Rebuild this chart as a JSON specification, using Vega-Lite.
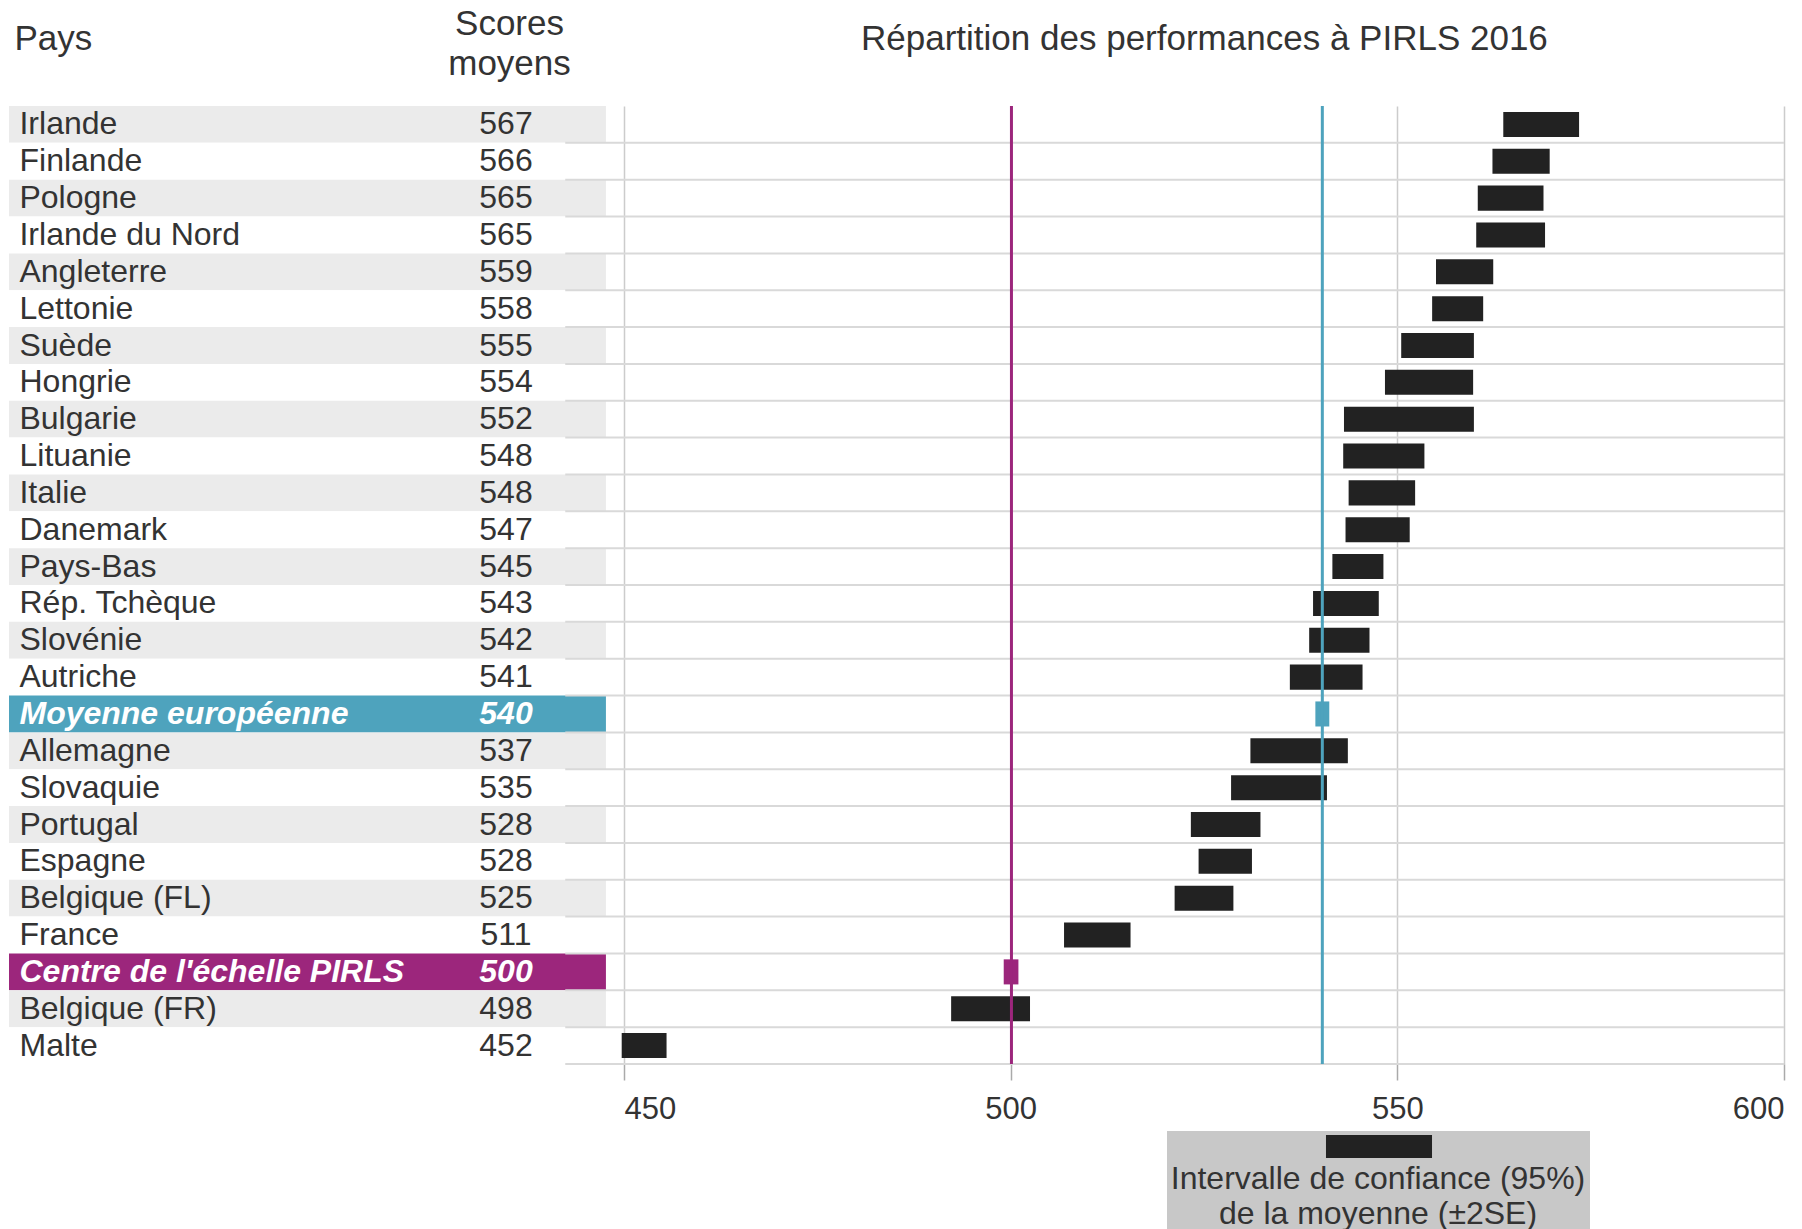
{
  "$schema": "https://vega.github.io/schema/vega-lite/v6.json",
  "width": 1775,
  "height": 958,
  "autosize": {"type": "none"},
  "padding": {"left": 9, "top": 106, "right": 18, "bottom": 165},
  "background": "#ffffff",
  "config": {"font": "Liberation Sans", "view": {"stroke": null}},
  "data": {
    "values": [
      {"pays": "Irlande", "score": 567, "lo": 563.7, "hi": 573.5, "type": "pays", "rang": 1},
      {"pays": "Finlande", "score": 566, "lo": 562.3, "hi": 569.7, "type": "pays", "rang": 2},
      {"pays": "Pologne", "score": 565, "lo": 560.4, "hi": 568.9, "type": "pays", "rang": 3},
      {"pays": "Irlande du Nord", "score": 565, "lo": 560.2, "hi": 569.1, "type": "pays", "rang": 4},
      {"pays": "Angleterre", "score": 559, "lo": 555.0, "hi": 562.4, "type": "pays", "rang": 5},
      {"pays": "Lettonie", "score": 558, "lo": 554.5, "hi": 561.1, "type": "pays", "rang": 6},
      {"pays": "Suède", "score": 555, "lo": 550.5, "hi": 559.9, "type": "pays", "rang": 7},
      {"pays": "Hongrie", "score": 554, "lo": 548.4, "hi": 559.8, "type": "pays", "rang": 8},
      {"pays": "Bulgarie", "score": 552, "lo": 543.1, "hi": 559.9, "type": "pays", "rang": 9},
      {"pays": "Lituanie", "score": 548, "lo": 543.0, "hi": 553.5, "type": "pays", "rang": 10},
      {"pays": "Italie", "score": 548, "lo": 543.7, "hi": 552.3, "type": "pays", "rang": 11},
      {"pays": "Danemark", "score": 547, "lo": 543.3, "hi": 551.6, "type": "pays", "rang": 12},
      {"pays": "Pays-Bas", "score": 545, "lo": 541.6, "hi": 548.2, "type": "pays", "rang": 13},
      {"pays": "Rép. Tchèque", "score": 543, "lo": 539.1, "hi": 547.6, "type": "pays", "rang": 14},
      {"pays": "Slovénie", "score": 542, "lo": 538.6, "hi": 546.4, "type": "pays", "rang": 15},
      {"pays": "Autriche", "score": 541, "lo": 536.1, "hi": 545.5, "type": "pays", "rang": 16},
      {"pays": "Moyenne européenne", "score": 540, "exact": 540.3, "lo": 539.4, "hi": 541.2, "type": "moyenne", "rang": null},
      {"pays": "Allemagne", "score": 537, "lo": 531.0, "hi": 543.6, "type": "pays", "rang": 17},
      {"pays": "Slovaquie", "score": 535, "lo": 528.5, "hi": 540.9, "type": "pays", "rang": 18},
      {"pays": "Portugal", "score": 528, "lo": 523.3, "hi": 532.3, "type": "pays", "rang": 19},
      {"pays": "Espagne", "score": 528, "lo": 524.3, "hi": 531.2, "type": "pays", "rang": 20},
      {"pays": "Belgique (FL)", "score": 525, "lo": 521.2, "hi": 528.8, "type": "pays", "rang": 21},
      {"pays": "France", "score": 511, "lo": 506.9, "hi": 515.5, "type": "pays", "rang": 22},
      {"pays": "Centre de l'échelle PIRLS", "score": 500, "exact": 500.1, "lo": 499.1, "hi": 501.0, "type": "centre", "rang": null},
      {"pays": "Belgique (FR)", "score": 498, "lo": 492.3, "hi": 502.5, "type": "pays", "rang": 23},
      {"pays": "Malte", "score": 452, "lo": 449.7, "hi": 455.5, "type": "pays", "rang": 24}
    ]
  },
  "layer": [
    {
      "layer": [
        {
          "mark": {"type": "bar"},
          "encoding": {
            "y": {"field": "pays", "type": "nominal", "sort": null, "axis": null, "scale": {"paddingInner": 0, "paddingOuter": 0}},
            "x": {
              "datum": 0, "type": "quantitative", "scale": {"domain": [0, 100], "nice": false, "zero": false},
              "axis": {"orient": "top", "values": [0.28, 28.17, 67.32], "labelExpr": "datum.value < 5 ? 'Pays' : datum.value < 50 ? ['Scores', 'moyens'] : 'Répartition des performances à PIRLS 2016'", "labelAlign": {"condition": {"test": "datum.value < 5", "value": "left"}, "value": "center"}, "labelBaseline": "middle", "labelFontSize": 35, "labelColor": "#333333", "labelPadding": {"condition": {"test": "datum.value > 5 && datum.value < 50", "value": 83}, "value": 68}, "labelLineHeight": 40, "labelLimit": 0, "labelOverlap": false, "labelBound": false, "labelFlush": false, "ticks": false, "tickSize": 0, "domain": false, "grid": false, "title": null}
            },
            "x2": {"datum": 33.63},
            "fill": {
              "condition": [
                {"test": "datum.type == 'moyenne'", "value": "#4ea3bd"},
                {"test": "datum.type == 'centre'", "value": "#9c267c"},
                {"test": "datum.rang % 2 == 1", "value": "#ebebeb"}
              ],
              "value": "#ffffff"
            }
          }
        },
        {
          "mark": {"type": "text", "align": "left", "baseline": "middle", "fontSize": 32, "color": "#333333"},
          "encoding": {
            "y": {"field": "pays", "type": "nominal", "sort": null, "axis": null},
            "x": {
              "datum": 0.59, "type": "quantitative",
              "axis": {"orient": "top", "values": [0.28, 28.17, 67.32], "labelExpr": "datum.value < 5 ? 'Pays' : datum.value < 50 ? ['Scores', 'moyens'] : 'Répartition des performances à PIRLS 2016'", "labelAlign": {"condition": {"test": "datum.value < 5", "value": "left"}, "value": "center"}, "labelBaseline": "middle", "labelFontSize": 35, "labelColor": "#333333", "labelPadding": {"condition": {"test": "datum.value > 5 && datum.value < 50", "value": 83}, "value": 68}, "labelLineHeight": 40, "labelLimit": 0, "labelOverlap": false, "labelBound": false, "labelFlush": false, "ticks": false, "tickSize": 0, "domain": false, "grid": false, "title": null}
            },
            "text": {"condition": {"test": "datum.type == 'pays'", "field": "pays", "type": "nominal"}, "value": ""}
          }
        },
        {
          "mark": {"type": "text", "align": "center", "baseline": "middle", "fontSize": 32, "color": "#333333"},
          "encoding": {
            "y": {"field": "pays", "type": "nominal", "sort": null, "axis": null},
            "x": {
              "datum": 28.0, "type": "quantitative",
              "axis": {"orient": "top", "values": [0.28, 28.17, 67.32], "labelExpr": "datum.value < 5 ? 'Pays' : datum.value < 50 ? ['Scores', 'moyens'] : 'Répartition des performances à PIRLS 2016'", "labelAlign": {"condition": {"test": "datum.value < 5", "value": "left"}, "value": "center"}, "labelBaseline": "middle", "labelFontSize": 35, "labelColor": "#333333", "labelPadding": {"condition": {"test": "datum.value > 5 && datum.value < 50", "value": 83}, "value": 68}, "labelLineHeight": 40, "labelLimit": 0, "labelOverlap": false, "labelBound": false, "labelFlush": false, "ticks": false, "tickSize": 0, "domain": false, "grid": false, "title": null}
            },
            "text": {"condition": {"test": "datum.type == 'pays'", "field": "score", "type": "quantitative"}, "value": ""}
          }
        },
        {
          "mark": {"type": "text", "align": "left", "baseline": "middle", "fontSize": 32, "fontWeight": "bold", "fontStyle": "italic", "color": "#ffffff"},
          "encoding": {
            "y": {"field": "pays", "type": "nominal", "sort": null, "axis": null},
            "x": {
              "datum": 0.59, "type": "quantitative",
              "axis": {"orient": "top", "values": [0.28, 28.17, 67.32], "labelExpr": "datum.value < 5 ? 'Pays' : datum.value < 50 ? ['Scores', 'moyens'] : 'Répartition des performances à PIRLS 2016'", "labelAlign": {"condition": {"test": "datum.value < 5", "value": "left"}, "value": "center"}, "labelBaseline": "middle", "labelFontSize": 35, "labelColor": "#333333", "labelPadding": {"condition": {"test": "datum.value > 5 && datum.value < 50", "value": 83}, "value": 68}, "labelLineHeight": 40, "labelLimit": 0, "labelOverlap": false, "labelBound": false, "labelFlush": false, "ticks": false, "tickSize": 0, "domain": false, "grid": false, "title": null}
            },
            "text": {"condition": {"test": "datum.type != 'pays'", "field": "pays", "type": "nominal"}, "value": ""}
          }
        },
        {
          "mark": {"type": "text", "align": "center", "baseline": "middle", "fontSize": 32, "fontWeight": "bold", "fontStyle": "italic", "color": "#ffffff"},
          "encoding": {
            "y": {"field": "pays", "type": "nominal", "sort": null, "axis": null},
            "x": {
              "datum": 28.0, "type": "quantitative",
              "axis": {"orient": "top", "values": [0.28, 28.17, 67.32], "labelExpr": "datum.value < 5 ? 'Pays' : datum.value < 50 ? ['Scores', 'moyens'] : 'Répartition des performances à PIRLS 2016'", "labelAlign": {"condition": {"test": "datum.value < 5", "value": "left"}, "value": "center"}, "labelBaseline": "middle", "labelFontSize": 35, "labelColor": "#333333", "labelPadding": {"condition": {"test": "datum.value > 5 && datum.value < 50", "value": 83}, "value": 68}, "labelLineHeight": 40, "labelLimit": 0, "labelOverlap": false, "labelBound": false, "labelFlush": false, "ticks": false, "tickSize": 0, "domain": false, "grid": false, "title": null}
            },
            "text": {"condition": {"test": "datum.type != 'pays'", "field": "score", "type": "quantitative"}, "value": ""}
          }
        }
      ]
    },
    {
      "layer": [
        {
          "mark": {"type": "rule", "color": "#d9d9d9", "strokeWidth": 2},
          "encoding": {
            "y": {"field": "pays", "type": "nominal", "sort": null, "bandPosition": 1, "axis": null},
            "x": {
              "datum": 442.4, "type": "quantitative", "scale": {"domain": [370.47, 600], "nice": false, "zero": false},
              "axis": {"orient": "bottom", "values": [450, 500, 550, 600], "grid": true, "gridColor": "#cccccc", "gridWidth": 1.5, "domain": false, "ticks": true, "tickColor": "#aaaaaa", "tickWidth": 1.5, "tickSize": 16, "labelFontSize": 31, "labelColor": "#333333", "labelBaseline": "middle", "labelPadding": 29, "labelAlign": {"condition": [{"test": "datum.value <= 450", "value": "left"}, {"test": "datum.value >= 600", "value": "right"}], "value": "center"}, "labelFlush": false, "labelBound": false, "labelOverlap": false, "title": null}
            },
            "x2": {"datum": 600}
          }
        },
        {
          "mark": {"type": "bar", "height": {"band": 0.68}},
          "encoding": {
            "y": {"field": "pays", "type": "nominal", "sort": null, "axis": null},
            "x": {
              "field": "lo", "type": "quantitative",
              "axis": {"orient": "bottom", "values": [450, 500, 550, 600], "grid": true, "gridColor": "#cccccc", "gridWidth": 1.5, "domain": false, "ticks": true, "tickColor": "#aaaaaa", "tickWidth": 1.5, "tickSize": 16, "labelFontSize": 31, "labelColor": "#333333", "labelBaseline": "middle", "labelPadding": 29, "labelAlign": {"condition": [{"test": "datum.value <= 450", "value": "left"}, {"test": "datum.value >= 600", "value": "right"}], "value": "center"}, "labelFlush": false, "labelBound": false, "labelOverlap": false, "title": null}
            },
            "x2": {"field": "hi"},
            "color": {
              "field": "type", "type": "nominal",
              "scale": {"domain": ["pays", "moyenne", "centre"], "range": ["#222222", "#4ea3bd", "#9c267c"]},
              "legend": {
                "values": ["pays"],
                "orient": "none",
                "legendX": 1158,
                "legendY": 1025,
                "title": ["Intervalle de confiance (95%)", "de la moyenne (±2SE)"],
                "titleOrient": "bottom",
                "titleAnchor": "middle",
                "titleAlign": "center",
                "titleBaseline": "top",
                "titleFontSize": 32,
                "titleFontWeight": "normal",
                "titleColor": "#333333",
                "titleLineHeight": 35,
                "titlePadding": 5.5,
                "titleLimit": 0,
                "labelExpr": "''",
                "labelOffset": 0,
                "symbolType": "M-4.61,-1H4.61V1H-4.61Z",
                "symbolSize": 529,
                "symbolOffset": 43.5,
                "symbolOpacity": 1,
                "symbolStrokeWidth": 0,
                "symbolFillColor": "#222222",
                "fillColor": "#c8c8c8",
                "padding": 4
              }
            }
          }
        },
        {
          "transform": [{"filter": "datum.type != 'pays'"}],
          "mark": {"type": "rule", "strokeWidth": 3},
          "encoding": {
            "x": {
              "field": "exact", "type": "quantitative",
              "axis": {"orient": "bottom", "values": [450, 500, 550, 600], "grid": true, "gridColor": "#cccccc", "gridWidth": 1.5, "domain": false, "ticks": true, "tickColor": "#aaaaaa", "tickWidth": 1.5, "tickSize": 16, "labelFontSize": 31, "labelColor": "#333333", "labelBaseline": "middle", "labelPadding": 29, "labelAlign": {"condition": [{"test": "datum.value <= 450", "value": "left"}, {"test": "datum.value >= 600", "value": "right"}], "value": "center"}, "labelFlush": false, "labelBound": false, "labelOverlap": false, "title": null}
            },
            "stroke": {
              "field": "type", "type": "nominal",
              "scale": {"domain": ["moyenne", "centre"], "range": ["#4ea3bd", "#9c267c"]},
              "legend": null
            }
          }
        }
      ]
    }
  ],
  "resolve": {"scale": {"x": "independent"}}
}
